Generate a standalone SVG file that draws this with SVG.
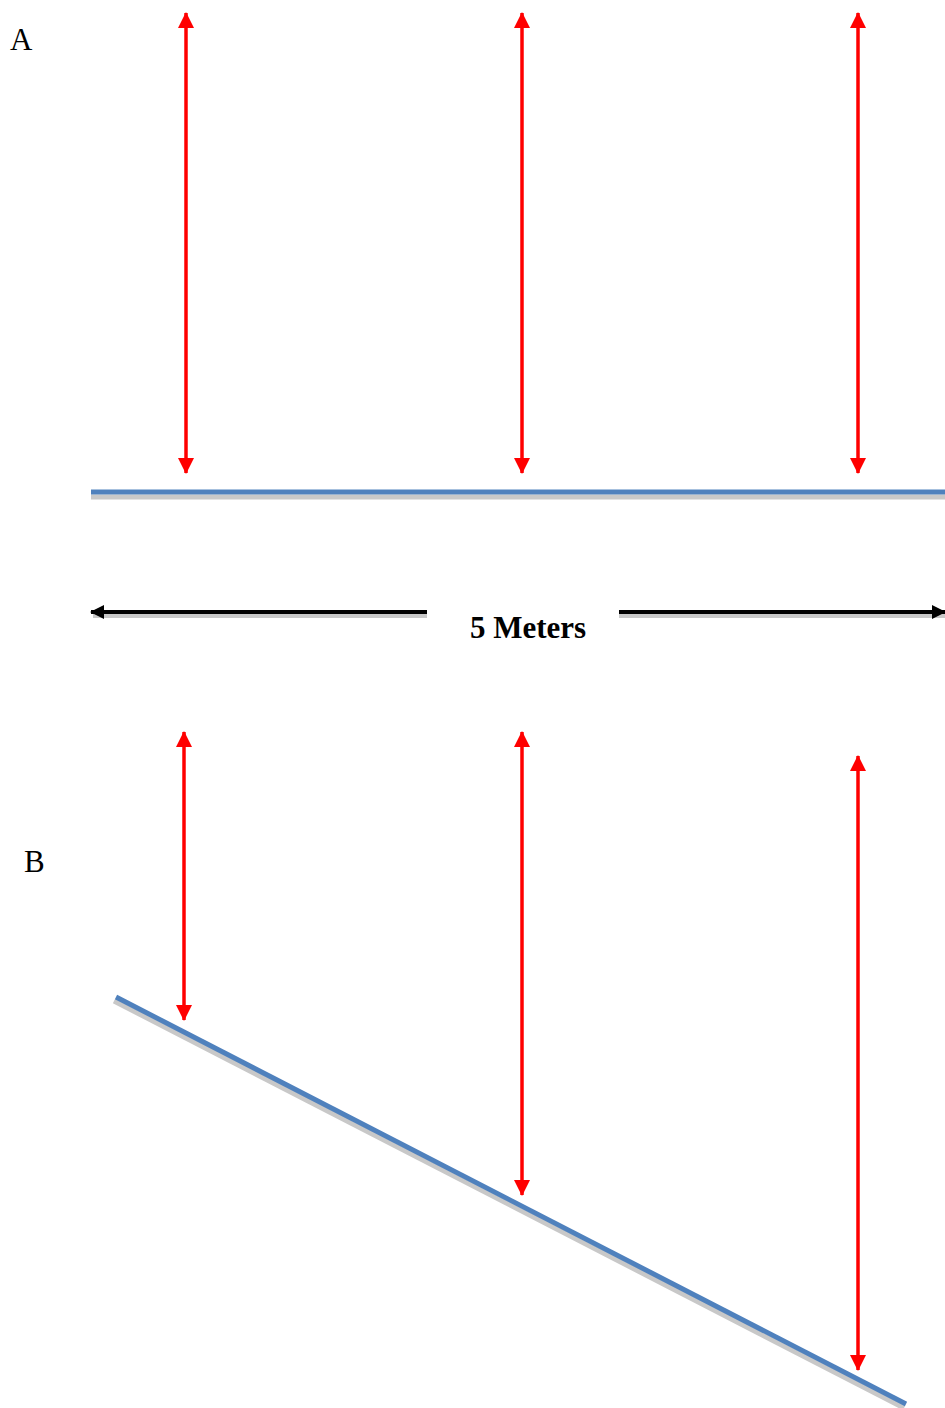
<svg xmlns="http://www.w3.org/2000/svg" width="945" height="1408" viewBox="0 0 945 1408">
<style>
.red{stroke:#ff0000;stroke-width:3.5;fill:none}
.blue{stroke:#4f81bd;stroke-width:5;fill:none}
.shadow{stroke:#c8c8c8;stroke-width:5;fill:none}
.blk{stroke:#000;stroke-width:4;fill:none}
.lbl{font-family:"Liberation Serif",serif;font-size:31px;fill:#000}
</style>
<defs>
<marker id="rh" markerUnits="userSpaceOnUse" markerWidth="16" markerHeight="16" viewBox="0 0 16 16" refX="15" refY="8" orient="auto-start-reverse">
<path d="M0,0 L16,8 L0,16 Z" fill="#ff0000"/>
</marker>
<marker id="bh" markerUnits="userSpaceOnUse" markerWidth="14" markerHeight="14" viewBox="0 0 14 14" refX="13" refY="7" orient="auto-start-reverse">
<path d="M0,0 L14,7 L0,14 Z" fill="#000"/>
</marker>
</defs>
<rect width="945" height="1408" fill="#fff"/>
<g id="surfaceA">
<line class="shadow" x1="91" y1="497" x2="945" y2="497"/>
<line class="blue" x1="91" y1="492" x2="945" y2="492"/>
</g>
<g id="surfaceB">
<line class="shadow" x1="114" y1="1001" x2="904" y2="1408"/>
<line class="blue" x1="116" y1="997" x2="906" y2="1404"/>
</g>
<g id="labels">
<text class="lbl" x="10" y="50">A</text>
<text class="lbl" x="24" y="872">B</text>
<text class="lbl" x="470" y="638" font-size="33" font-weight="bold">5 Meters</text>
</g>
<g id="connectors">
<g id="scale">
<line x1="93" y1="616" x2="427" y2="616" stroke="#c8c8c8" stroke-width="4"/>
<line x1="619" y1="616" x2="945" y2="616" stroke="#c8c8c8" stroke-width="4"/>
<line class="blk" x1="427" y1="612" x2="91" y2="612" marker-end="url(#bh)"/>
<line class="blk" x1="619" y1="612" x2="945" y2="612" marker-end="url(#bh)"/>
</g>
<line class="red" x1="186" y1="13" x2="186" y2="473" marker-start="url(#rh)" marker-end="url(#rh)"/>
<line class="red" x1="522" y1="13" x2="522" y2="473" marker-start="url(#rh)" marker-end="url(#rh)"/>
<line class="red" x1="858" y1="13" x2="858" y2="473" marker-start="url(#rh)" marker-end="url(#rh)"/>
<line class="red" x1="184" y1="732" x2="184" y2="1020" marker-start="url(#rh)" marker-end="url(#rh)"/>
<line class="red" x1="522" y1="732" x2="522" y2="1195" marker-start="url(#rh)" marker-end="url(#rh)"/>
<line class="red" x1="858" y1="756" x2="858" y2="1370" marker-start="url(#rh)" marker-end="url(#rh)"/>
</g>
</svg>
